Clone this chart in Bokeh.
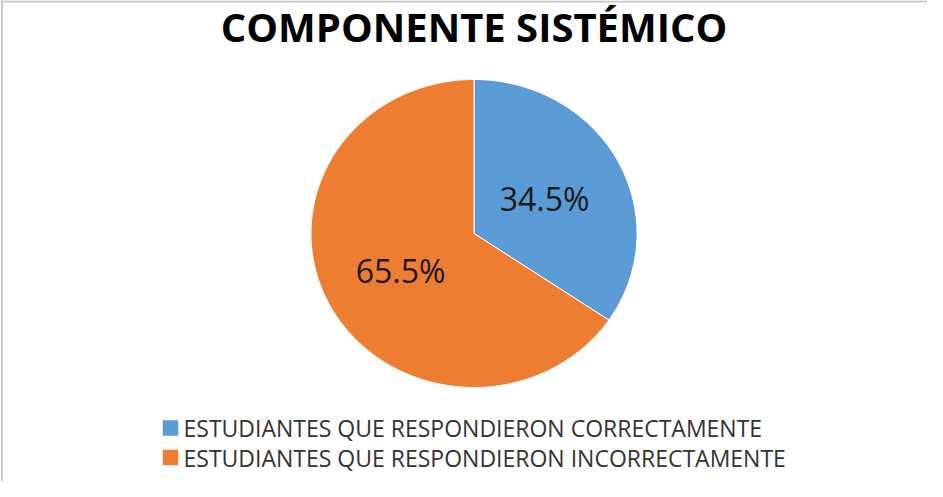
import math
from bokeh.plotting import figure
from bokeh.models import Range1d, ColumnDataSource, Span
from bokeh.core.properties import value
from bokeh.embed import file_html
from bokeh.resources import INLINE

# ---- data ----
title_text = "COMPONENTE SISTÉMICO"
categories = ["ESTUDIANTES QUE RESPONDIERON CORRECTAMENTE",
              "ESTUDIANTES QUE RESPONDIERON INCORRECTAMENTE"]
percentages = [34.5, 65.5]
colors = ["#5B9BD5", "#ED7D31"]

# ---- layout (page pixel coordinates) ----
W, H = 927, 481
cx, cy, rx, ry = 481.5, 241.0, 163.0, 154.0
label_r = [0.49, 0.51]

p = figure(width=W, height=H, output_backend="svg", toolbar_location=None,
           x_range=Range1d(8, 8 + W), y_range=Range1d(8 + H, 8),
           min_border=0, outline_line_color=None)
p.axis.visible = False
p.grid.visible = False
p.background_fill_color = "white"
p.border_fill_color = "white"

# border (top and left visible in reference)
p.add_layout(Span(location=9, dimension="width", line_color="#c8c8c8", line_width=2))
p.add_layout(Span(location=9.5, dimension="height", line_color="#c8c8c8", line_width=2))

# pie slices (clockwise from 12 o'clock)
total = sum(percentages)
xs, ys, lx, ly, labels = [], [], [], [], []
start = 0.0
for i, v in enumerate(percentages):
    frac = v / total
    a0, a1 = start * 2 * math.pi, (start + frac) * 2 * math.pi
    n = max(4, int(360 * frac))
    px, py = [cx], [cy]
    for k in range(n + 1):
        t = a0 + (a1 - a0) * k / n
        px.append(cx + rx * math.sin(t))
        py.append(cy - ry * math.cos(t))
    xs.append(px)
    ys.append(py)
    mid = (a0 + a1) / 2
    lx.append(cx + label_r[i] * rx * math.sin(mid))
    ly.append(cy - label_r[i] * ry * math.cos(mid))
    labels.append(f"{v:.1f}%")
    start += frac

src = ColumnDataSource(dict(xs=xs, ys=ys, color=colors, cat=categories))
p.patches("xs", "ys", source=src, fill_color="color", line_color="white", line_width=1)

p.text(x=lx, y=ly, text=labels, text_font=value("Open Sans"), text_font_size="32px",
       text_color="#1a1a1a", text_align="center", text_baseline="middle")

# title
p.text(x=[481.5], y=[34], text=[title_text], text_font=value("Open Sans"),
       text_font_size="40px", text_font_style="bold", text_color="#000000",
       text_align="center", text_baseline="middle")

# legend
leg_y = [435.5 + 29.5 * i for i in range(len(categories))]
p.scatter(x=[178] * len(categories), y=leg_y, marker="square", size=15.5,
          fill_color=colors, line_color=None)
p.text(x=[191] * len(categories), y=leg_y, text=categories, text_font=value("Open Sans"),
       text_font_size="23px", text_color="#333333", text_align="left", text_baseline="middle")

open("out.html", "w").write(file_html(p, INLINE))
